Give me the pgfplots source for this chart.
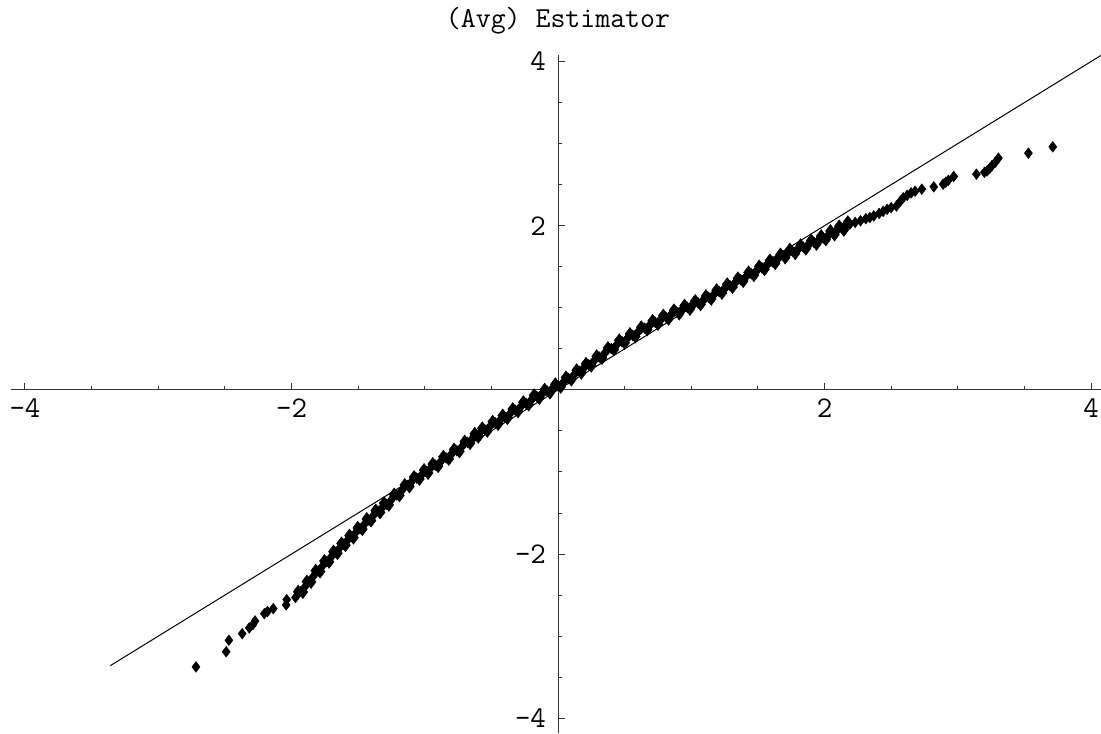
\documentclass[border=0pt]{standalone}
\usepackage{fontspec}
\usepackage{pgfplots}
\pgfplotsset{compat=1.18}

\begin{document}
\begin{tikzpicture}
\begin{axis}[
  scale only axis,
  width=545pt, height=339pt,
  xmin=-4.105, xmax=4.075,
  ymin=-4.18, ymax=4.08,
  axis lines=middle,
  axis line style={-, line width=0.5pt, black!80},
  xtick={-4,-2,2,4},
  xticklabels={\texttt{-4},\texttt{-2},\texttt{2},\texttt{4}},
  ytick={-4,-2,2,4},
  yticklabels={\texttt{-4},\texttt{-2},\texttt{2},\texttt{4}},
  minor xtick={-3.5,-3,-2.5,-1.5,-1,-0.5,0.5,1,1.5,2.5,3,3.5},
  minor ytick={-3.5,-3,-2.5,-1.5,-1,-0.5,0.5,1,1.5,2.5,3,3.5},
  tick align=inside,
  major tick length=3.3pt, minor tick length=2pt,
  tick style={line width=0.5pt, black!80},
  tick label style={font=\ttfamily\fontsize{15}{17}\selectfont},
  xticklabel style={yshift=-1pt},
  yticklabel style={xshift=-2.5pt},
  clip=true,
]
% reference line y = x
\addplot[black, line width=0.5pt, no marks] coordinates {(-3.36,-3.36) (4.3,4.3)};

% sample quantiles
\addplot[only marks, mark=diamond*, mark size=2.7pt,
  mark options={fill=black, draw=black, line width=0.2pt}] coordinates {
(-2.717,-3.375) (-2.49,-3.19) (-2.47,-3.05) (-2.37,-2.97) (-2.317,-2.90)
(-2.29,-2.86) (-2.274,-2.815) (-2.204,-2.726) (-2.18,-2.70) (-2.137,-2.665)
(-2.04,-2.62) (-2.036,-2.555)
(-1.97,-2.53) (-1.93,-2.456) (-1.90,-2.40) (-1.87,-2.339) (-1.836,-2.27)
(-1.80,-2.205) (-1.77,-2.151) (-1.736,-2.09) (-1.70,-2.03) (-1.67,-1.979)
(-1.64,-1.929) (-1.611,-1.88) (-1.58,-1.833) (-1.55,-1.787) (-1.52,-1.742)
(-1.486,-1.69) (-1.45,-1.632) (-1.42,-1.584) (-1.386,-1.53) (-1.35,-1.479)
(-1.32,-1.436) (-1.29,-1.394) (-1.25,-1.337) (-1.21,-1.28) (-1.17,-1.222)
(-1.13,-1.164) (-1.10,-1.12) (-1.06,-1.074) (-1.02,-1.028) (-0.99,-0.994)
(-0.96,-0.96) (-0.92,-0.916) (-0.88,-0.872) (-0.84,-0.828) (-0.80,-0.784)
(-0.76,-0.74) (-0.72,-0.69) (-0.68,-0.639) (-0.64,-0.589) (-0.61,-0.551)
(-0.585,-0.52) (-0.55,-0.484) (-0.51,-0.443) (-0.47,-0.402) (-0.43,-0.362)
(-0.40,-0.331) (-0.36,-0.29) (-0.32,-0.248) (-0.28,-0.206) (-0.24,-0.164)
(-0.20,-0.122) (-0.16,-0.08) (-0.12,-0.048) (-0.08,-0.015) (-0.04,0.018)
(0.00,0.05) (0.04,0.094) (0.08,0.138) (0.12,0.183) (0.16,0.227)
(0.19,0.26) (0.23,0.306) (0.27,0.353) (0.31,0.399) (0.35,0.446)
(0.40,0.504) (0.44,0.55) (0.48,0.588) (0.52,0.627) (0.56,0.665)
(0.60,0.704) (0.65,0.752) (0.69,0.79) (0.73,0.822) (0.77,0.854)
(0.81,0.886) (0.85,0.918) (0.89,0.95) (0.93,0.978) (0.97,1.006)
(1.01,1.034) (1.05,1.062) (1.09,1.09) (1.13,1.126) (1.17,1.162)
(1.21,1.198) (1.25,1.234) (1.29,1.27) (1.33,1.306) (1.37,1.342)
(1.41,1.378) (1.45,1.414) (1.49,1.45) (1.53,1.487) (1.57,1.523)
(1.61,1.56) (1.65,1.596) (1.69,1.633) (1.72,1.66) (1.76,1.687)
(1.80,1.713) (1.84,1.74) (1.88,1.769) (1.92,1.799) (1.96,1.828)
(1.99,1.85) (2.03,1.886) (2.06,1.913) (2.09,1.94) (2.13,1.972)
(2.16,1.996) (2.19,2.02) (2.23,2.04) (2.27,2.06) (2.31,2.085)
(2.34,2.10) (2.37,2.12) (2.41,2.15) (2.44,2.175) (2.47,2.20)
(2.50,2.22) (2.54,2.24) (2.57,2.30) (2.59,2.34) (2.62,2.37)
(2.65,2.40) (2.68,2.42) (2.73,2.445) (2.82,2.474) (2.89,2.506)
(2.91,2.53) (2.93,2.555) (2.97,2.60) (3.14,2.628) (3.20,2.65)
(3.22,2.668) (3.24,2.70) (3.255,2.729) (3.28,2.77) (3.305,2.823)
(3.53,2.884) (3.713,2.961)
};

% the in-between quantiles that thicken the central band
\addplot[only marks, mark=diamond*, mark size=3.3pt,
  mark options={fill=black, draw=black, line width=0.2pt}] coordinates {
(-1.95,-2.458) (-1.915,-2.463) (-1.885,-2.335) (-1.853,-2.34) (-1.818,-2.203)
(-1.785,-2.213) (-1.753,-2.085) (-1.718,-2.095) (-1.685,-1.97) (-1.655,-1.989)
(-1.625,-1.87) (-1.595,-1.892) (-1.565,-1.775) (-1.535,-1.80) (-1.503,-1.681)
(-1.468,-1.696) (-1.435,-1.573) (-1.403,-1.592) (-1.368,-1.47) (-1.335,-1.493)
(-1.305,-1.38) (-1.27,-1.401) (-1.23,-1.274) (-1.19,-1.286) (-1.15,-1.158)
(-1.115,-1.177) (-1.08,-1.062) (-1.04,-1.086) (-1.005,-0.976) (-0.975,-1.012)
(-0.94,-0.903) (-0.90,-0.929) (-0.86,-0.815) (-0.82,-0.841) (-0.78,-0.727)
(-0.74,-0.75) (-0.70,-0.63) (-0.66,-0.649) (-0.625,-0.535) (-0.598,-0.571)
(-0.568,-0.467) (-0.53,-0.499) (-0.49,-0.388) (-0.45,-0.417) (-0.415,-0.312)
(-0.38,-0.345) (-0.34,-0.234) (-0.30,-0.262) (-0.26,-0.15) (-0.22,-0.178)
(-0.18,-0.066) (-0.14,-0.099) (-0.10,0.003) (-0.06,-0.033) (-0.02,0.069)
(0.02,0.037) (0.06,0.151) (0.10,0.125) (0.14,0.24) (0.175,0.208)
(0.21,0.318) (0.25,0.295) (0.29,0.411) (0.33,0.388) (0.375,0.51)
(0.42,0.492) (0.46,0.604) (0.50,0.573) (0.54,0.681) (0.58,0.65)
(0.625,0.763) (0.67,0.736) (0.71,0.841) (0.75,0.803) (0.79,0.905)
(0.83,0.867) (0.87,0.969) (0.91,0.929) (0.95,1.027) (0.99,0.985)
(1.03,1.083) (1.07,1.041) (1.11,1.143) (1.15,1.109) (1.19,1.215)
(1.23,1.181) (1.27,1.287) (1.31,1.253) (1.35,1.359) (1.39,1.325)
(1.43,1.431) (1.47,1.397) (1.51,1.504) (1.55,1.47) (1.59,1.577)
(1.63,1.543) (1.67,1.65) (1.705,1.612) (1.74,1.709) (1.78,1.665)
(1.82,1.762) (1.86,1.72) (1.90,1.819) (1.94,1.779) (1.975,1.874)
(2.01,1.833) (2.045,1.935) (2.075,1.892) (2.11,1.991) (2.145,1.949)
(2.175,2.043)
};

\coordinate (top) at (axis cs:0,4.08);
\coordinate (sw) at (rel axis cs:0,0);
\coordinate (ne) at (rel axis cs:1,1);
\end{axis}
\node[anchor=base, font=\ttfamily\fontsize{14.5}{17}\selectfont]
  at ([yshift=13.5pt]top) {(Avg) Estimator};
\pgfresetboundingbox
\path ([xshift=-5.5pt]sw) rectangle ([yshift=27.5pt]ne);
\end{tikzpicture}
\end{document}
